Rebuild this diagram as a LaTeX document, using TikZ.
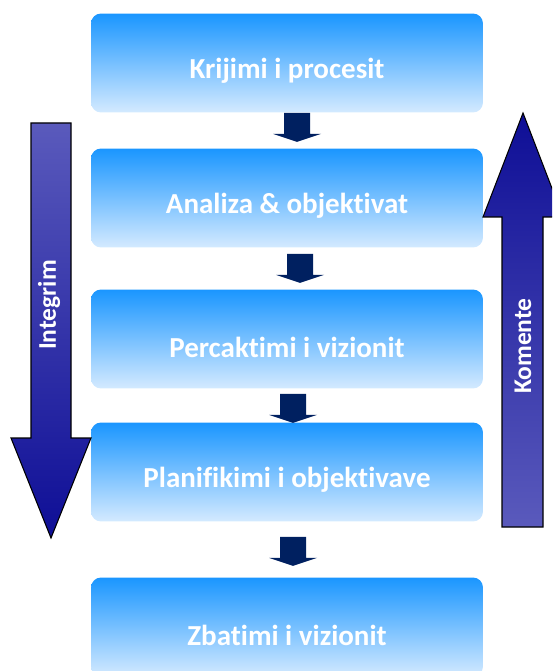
\documentclass[tikz,border=0pt]{standalone}
\usepackage{fontspec}
\setmainfont[Ligatures=NoCommon]{Carlito}
\usetikzlibrary{positioning,calc}
\definecolor{boxtop}{HTML}{1A96FF}
\definecolor{boxmid}{HTML}{8CC2FF}
\definecolor{boxbot}{HTML}{D4EAFF}
\definecolor{flowblue}{HTML}{002060}
\definecolor{bigdark}{HTML}{0E0E96}
\definecolor{biglight}{HTML}{5A5ABC}
\tikzset{
  stage/.style={rounded corners=0.2cm, minimum width=7.84cm, minimum height=1.98cm,
    top color=boxtop, middle color=boxmid, bottom color=boxbot, inner sep=0pt},
  stagetext/.style={text=white, font=\fontsize{16.5}{20}\selectfont\bfseries},
  flowarrow/.style={fill=flowblue},
  sidearrow/.style={draw=black, line width=0.6pt},
  sidetext/.style={text=white, rotate=90, font=\fontsize{14.5}{17}\selectfont\bfseries}
}
\begin{document}
\begin{tikzpicture}[x=0.02cm, y=-0.02cm]
    \clip (0,0) rectangle (552,671);
    \useasboundingbox (0,0) rectangle (552,671);
    % Stages
    \foreach \i/\y/\t in {1/63/Krijimi i procesit, 2/198/Analiza \& objektivat,
                          3/339/Percaktimi i vizionit, 4/472/Planifikimi i objektivave,
                          5/627/Zbatimi i vizionit} {
        \node[stage] (b\i) at (287,\y) {};
        \node[stagetext] (t\i) at ($(b\i.center)+(0,8)$) {\t};
    }
    % Flow arrows
    \foreach \i/\dx/\dy in {1/10/0, 2/13/6, 3/6/5, 4/6/15} {
        \coordinate (a\i) at ($(b\i.south)+(\dx,\dy)$);
        \fill[flowarrow] ($(a\i)+(-13,0)$) -- ($(a\i)+(13,0)$) -- ($(a\i)+(13,21)$)
            -- ($(a\i)+(24,21)$) -- ($(a\i)+(0,29)$) -- ($(a\i)+(-24,21)$)
            -- ($(a\i)+(-13,21)$) -- cycle;
    }
    % Integrim
    \draw[sidearrow, top color=biglight, bottom color=bigdark]
        (31,123) -- (71,123) -- (71,438) -- (91,438) -- (51,538) -- (11,438) -- (31,438) -- cycle;
    \node[sidetext] (integ) at (49,305) {Integrim};
    % Komente
    \draw[sidearrow, top color=bigdark, bottom color=biglight]
        (502,527) -- (543,527) -- (543,217) -- (563,217) -- (523,113) -- (483,217) -- (502,217) -- cycle;
    \node[sidetext] (koment) at (523,346) {Komente};
\end{tikzpicture}
\end{document}
